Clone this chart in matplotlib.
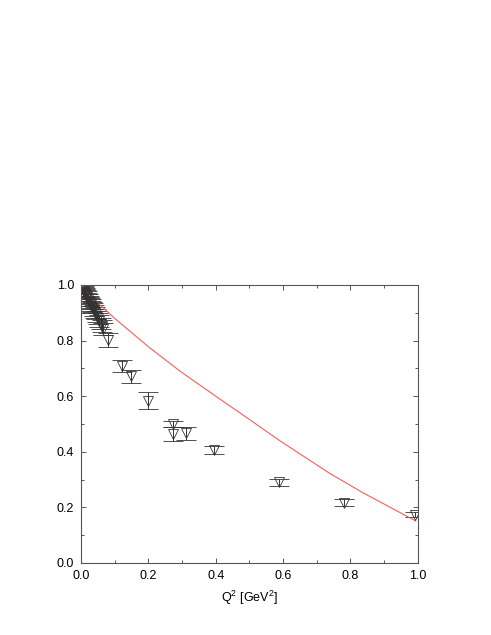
import numpy as np
import matplotlib
matplotlib.use("Agg")
import matplotlib.pyplot as plt
from matplotlib.ticker import MultipleLocator

plt.rcParams['font.family'] = ['Liberation Sans', 'DejaVu Sans']
plt.rcParams['mathtext.fontset'] = 'custom'
plt.rcParams['mathtext.rm'] = 'Liberation Sans'

# data points (Q^2, form factor, error)
q2 = [0.004, 0.006, 0.008, 0.010, 0.012, 0.013, 0.015, 0.017, 0.019, 0.021,
      0.023, 0.025, 0.027, 0.029, 0.031, 0.033, 0.035, 0.038, 0.041, 0.044,
      0.047, 0.050, 0.054, 0.058, 0.062, 0.066, 0.081,
      0.121, 0.148, 0.198, 0.274, 0.274, 0.312, 0.396, 0.587, 0.781, 0.991]
ff = [0.990, 0.985, 0.981, 0.976, 0.972, 0.968, 0.965, 0.960, 0.953, 0.950,
      0.944, 0.940, 0.935, 0.930, 0.925, 0.921, 0.916, 0.909, 0.902, 0.895,
      0.888, 0.880, 0.871, 0.861, 0.852, 0.842, 0.802,
      0.709, 0.671, 0.584, 0.499, 0.465, 0.466, 0.406, 0.290, 0.217, 0.174]
err = [0.015, 0.016, 0.015, 0.017, 0.016, 0.018, 0.016, 0.017, 0.018, 0.017,
       0.018, 0.017, 0.019, 0.018, 0.018, 0.019, 0.018, 0.019, 0.020, 0.019,
       0.020, 0.020, 0.021, 0.020, 0.021, 0.022, 0.024,
       0.022, 0.023, 0.030, 0.011, 0.025, 0.023, 0.015, 0.0125, 0.012, 0.009]

# model curve
curve_q2 = [0.0, 0.047, 0.1, 0.2, 0.294, 0.393, 0.492, 0.59, 0.739, 0.838,
            0.937, 0.994]
curve_ff = [1.0, 0.939, 0.880, 0.778, 0.690, 0.606, 0.523, 0.440, 0.322,
            0.252, 0.188, 0.151]

fig = plt.figure(figsize=(4.91, 6.35), dpi=100)
ax = fig.add_axes([0.165, 0.1134, 0.686, 0.4378])

ax.errorbar(q2, ff, yerr=err, fmt='v', ms=6.5, mfc='none', mec='#333333',
            mew=0.6, ecolor='#333333', elinewidth=0.7, capsize=7,
            capthick=0.7)
ax.plot(curve_q2, curve_ff, color='#ff5a5a', lw=0.8)

ax.set_xlim(0, 1.0)
ax.set_ylim(0, 1.0)
ax.xaxis.set_major_locator(MultipleLocator(0.2))
ax.xaxis.set_minor_locator(MultipleLocator(0.1))
ax.yaxis.set_major_locator(MultipleLocator(0.2))
ax.yaxis.set_minor_locator(MultipleLocator(0.1))
ax.tick_params(which='both', direction='in', top=True, right=True,
               labelsize=9, color='#555555')
ax.tick_params(which='major', length=3.5, width=0.7, pad=5)
ax.tick_params(which='minor', length=2.5, width=0.7)
for s in ax.spines.values():
    s.set_color('#555555')
    s.set_linewidth(0.8)

ax.set_xlabel(r'Q$^{\mathregular{2}}$ [GeV$^{\mathregular{2}}$]', fontsize=9, labelpad=5)

fig.savefig('out.png', dpi=100)
